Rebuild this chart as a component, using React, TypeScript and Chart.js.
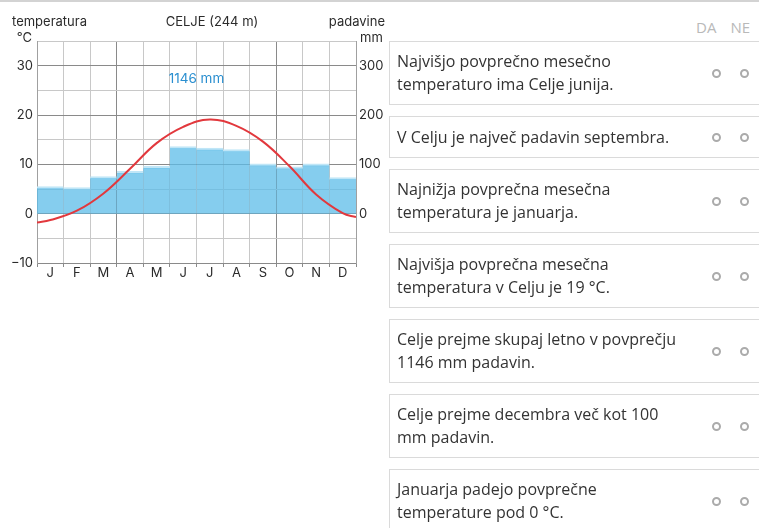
import React, { useEffect, useRef } from "react";
import { Chart, registerables } from "chart.js";

Chart.register(...registerables);

const CHART_FONT = "Inter, 'Liberation Sans', Arial, sans-serif";
const PANEL_FONT = "'Open Sans', 'Noto Sans', sans-serif";

// ---- data ----
const months = ["J", "F", "M", "A", "M", "J", "J", "A", "S", "O", "N", "D"];
const precipitationMm = [55, 53, 75, 86, 96, 136, 133, 130, 101, 95, 101, 73];
const temperatureC = [-1.3, 0.6, 4.1, 9.1, 14.3, 17.6, 19.1, 17.8, 14.6, 9.6, 3.9, 0.1];
const temperatureAtYearStart = -1.8;
const temperatureAtYearEnd = -0.7;
const temperatureTicks = [-10, 0, 10, 20, 30];
const precipitationTicks = [0, 100, 200, 300];
const stationTitle = "CELJE (244 m)";
const annualTotal = "1146 mm";
const leftTitle = "temperatura";
const leftUnit = "°C";
const rightTitle = "padavine";
const rightUnit = "mm";
const answerHeaders = ["DA", "NE"];
const statements: string[][] = [
  ["Najvišjo povprečno mesečno", "temperaturo ima Celje junija."],
  ["V Celju je največ padavin septembra."],
  ["Najnižja povprečna mesečna", "temperatura je januarja."],
  ["Najvišja povprečna mesečna", "temperatura v Celju je 19 °C."],
  ["Celje prejme skupaj letno v povprečju", "1146 mm padavin."],
  ["Celje prejme decembra več kot 100", "mm padavin."],
  ["Januarja padejo povprečne", "temperature pod 0 °C."],
];

const GRID_LIGHT = "#c8c8c8";
const GRID_DARK = "#8a8a8a";
const TEXT = "#2b2b2b";

const annotations = {
  id: "climateAnnotations",
  afterDraw(chart: any) {
    const { ctx, chartArea } = chart;
    ctx.save();
    ctx.fillStyle = TEXT;
    ctx.font = `13px ${CHART_FONT}`;
    ctx.textBaseline = "alphabetic";
    ctx.textAlign = "left";
    ctx.fillText(leftTitle, 12, 26);
    ctx.textAlign = "right";
    ctx.fillText(leftUnit, chartArea.left - 5, 42);
    ctx.textAlign = "center";
    ctx.fillText(stationTitle, 212, 26);
    ctx.textAlign = "right";
    ctx.fillText(rightTitle, 385, 26);
    ctx.textAlign = "left";
    ctx.fillText(rightUnit, chartArea.right + 4, 42);
    ctx.fillStyle = "#2a8fd0";
    ctx.font = `13.5px ${CHART_FONT}`;
    ctx.textAlign = "center";
    ctx.fillText(annualTotal, (chartArea.left + chartArea.right) / 2, 83);
    ctx.restore();
  },
};

function ClimateChart() {
  const ref = useRef<HTMLCanvasElement | null>(null);
  useEffect(() => {
    if (!ref.current) return;
    const tempPoints = [
      { x: 0, y: temperatureAtYearStart },
      ...temperatureC.map((v, i) => ({ x: i + 0.5, y: v })),
      { x: months.length, y: temperatureAtYearEnd },
    ];
    const chart = new Chart(ref.current, {
      type: "bar",
      data: {
        labels: months,
        datasets: [
          {
            type: "line",
            label: "temperatura",
            data: tempPoints as any,
            xAxisID: "xl",
            yAxisID: "y",
            borderColor: "#e2383d",
            borderWidth: 2,
            pointRadius: 0,
            tension: 0.4,
            fill: false,
          } as any,
          {
            type: "bar",
            label: "padavine",
            data: precipitationMm,
            xAxisID: "x",
            yAxisID: "y2",
            grouped: false,
            backgroundColor: "rgba(92,188,232,0.75)",
            borderColor: "rgba(192,230,247,1)",
            borderWidth: { top: 2, left: 0, right: 0, bottom: 0 },
            barPercentage: 1,
            categoryPercentage: 1,
          } as any,
        ],
      },
      options: {
        responsive: false,
        devicePixelRatio: 1,
        animation: false,
        layout: { padding: { top: 41, left: 0, right: 0, bottom: 0 } },
        plugins: { legend: { display: false }, tooltip: { enabled: false }, title: { display: false } },
        scales: {
          x: {
            type: "category",
            position: "bottom",
            offset: true,
            grid: {
              offset: true,
              color: (c: any) => (c.index === 3 || c.index === 9 ? GRID_DARK : GRID_LIGHT),
              tickColor: GRID_DARK,
              tickLength: 4,
              drawTicks: true,
            },
            border: { display: true, color: GRID_DARK },
            ticks: {
              color: TEXT,
              font: { family: CHART_FONT, size: 13, lineHeight: 1 },
              padding: 0,
              autoSkip: false,
              maxRotation: 0,
            },
            afterFit: (s: any) => {
              s.height = 27;
            },
          },
          xl: {
            type: "linear",
            min: 0,
            max: months.length,
            offset: false,
            display: false,
            grid: { offset: false },
          },
          y: {
            type: "linear",
            position: "left",
            min: -10,
            max: 35,
            ticks: {
              stepSize: 5,
              autoSkip: false,
              color: TEXT,
              padding: 4,
              font: { family: CHART_FONT, size: 13 },
              callback: (v: any) =>
                temperatureTicks.includes(v) ? (v < 0 ? "\u2212" + Math.abs(v) : String(v)) : "",
            },
            grid: {
              color: (c: any) => (c.tick && c.tick.value % 10 === 0 ? GRID_DARK : GRID_LIGHT),
              drawTicks: false,
            },
            border: { display: true, color: "#a0a0a0" },
            afterFit: (s: any) => {
              s.width = 37;
            },
          },
          y2: {
            type: "linear",
            position: "right",
            min: -100,
            max: 350,
            ticks: {
              stepSize: 50,
              autoSkip: false,
              color: TEXT,
              padding: 3,
              font: { family: CHART_FONT, size: 13 },
              callback: (v: any) => (precipitationTicks.includes(v) ? String(v) : ""),
            },
            grid: { display: false, drawTicks: false },
            border: { display: true, color: "#a0a0a0" },
            afterFit: (s: any) => {
              s.width = 34;
            },
          },
        },
      } as any,
      plugins: [annotations],
    });
    return () => chart.destroy();
  }, []);
  return (
    <canvas
      ref={ref}
      width={390}
      height={290}
      style={{ position: "absolute", left: 0, top: 0, width: 390, height: 290 }}
    />
  );
}

function Radio({ left }: { left: number }) {
  return (
    <span
      style={{
        position: "absolute",
        left,
        top: "50%",
        width: 9,
        height: 9,
        marginTop: -4.5,
        boxSizing: "border-box",
        borderRadius: "50%",
        border: "2px solid #ababab",
        background: "#fff",
      }}
    />
  );
}

export default function App() {
  return (
    <div
      style={{
        position: "fixed",
        left: 0,
        top: 0,
        width: 759,
        height: 528,
        overflow: "hidden",
        background: "#fff",
      }}
    >
      <ClimateChart />
      <div style={{ position: "absolute", left: 0, top: 0, width: 759, height: 2, background: "#d3d3d3" }} />
      <div
        style={{
          position: "absolute",
          top: 20,
          left: 696,
          font: `15px/15px ${PANEL_FONT}`,
          color: "#b9b9b9",
          whiteSpace: "nowrap",
        }}
      >
        <span>{answerHeaders[0]}</span>
        <span style={{ marginLeft: 14 }}>{answerHeaders[1]}</span>
      </div>
      <div
        style={{
          position: "absolute",
          left: 389,
          top: 41,
          width: 420,
          display: "flex",
          flexDirection: "column",
          gap: 11,
        }}
      >
        {statements.map((lines, i) => (
          <div
            key={i}
            style={{
              position: "relative",
              boxSizing: "border-box",
              height: lines.length > 1 ? 64 : 42,
              border: "1px solid #dadada",
              display: "flex",
              alignItems: "center",
              paddingLeft: 7,
              font: `16px/23px ${PANEL_FONT}`,
              color: "#333",
            }}
          >
            <div>
              {lines.map((l, j) => (
                <div key={j} style={{ whiteSpace: "nowrap" }}>
                  {l}
                </div>
              ))}
            </div>
            <Radio left={321.5} />
            <Radio left={350} />
          </div>
        ))}
      </div>
    </div>
  );
}
